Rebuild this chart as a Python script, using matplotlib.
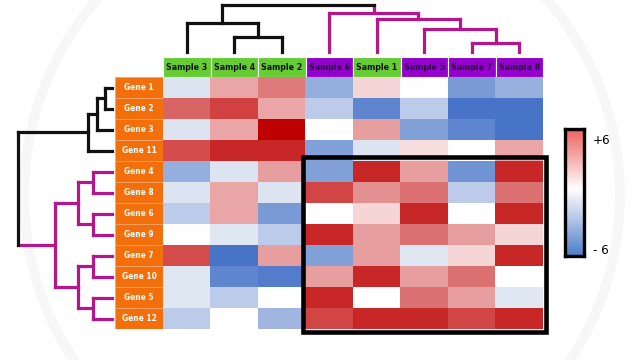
import matplotlib
matplotlib.use("Agg")
import matplotlib.pyplot as plt
import numpy as np
from matplotlib.colors import LinearSegmentedColormap
from matplotlib.patches import Rectangle, Circle
from matplotlib import font_manager

# ---------------- data ----------------
samples = ["Sample 3", "Sample 4", "Sample 2", "Sample 6", "Sample 1", "Sample 5", "Sample 7", "Sample 8"]
sample_group = ["g", "g", "g", "p", "g", "p", "p", "p"]
genes = ["Gene 1", "Gene 2", "Gene 3", "Gene 11", "Gene 4", "Gene 8", "Gene 6", "Gene 9",
         "Gene 7", "Gene 10", "Gene 5", "Gene 12"]

gene1 = [-1.0, 2.0, 3.0, -2.5, 1.0, 0.0, -3.2, -2.4]
gene2 = [3.5, 4.3, 2.0, -1.6, -4.0, -1.6, -5.2, -5.2]
gene3 = [-1.0, 2.0, 6.0, 0.0, 2.2, -3.0, -4.0, -5.2]
gene11 = [4.0, 5.0, 5.0, -3.0, -1.0, 0.8, 0.0, 2.0]
gene4 = [-2.5, -1.0, 2.2, -3.0, 5.0, 2.2, -3.5, 5.0]
gene8 = [-1.0, 2.0, -1.0, 4.2, 2.5, 3.2, -1.6, 3.2]
gene6 = [-1.6, 2.0, -3.2, 0.0, 1.0, 5.0, 0.0, 5.0]
gene9 = [0.0, -0.9, -1.6, 5.0, 2.2, 3.2, 2.2, 1.0]
gene7 = [4.0, -5.2, 2.2, -3.0, 2.2, -0.9, 1.0, 5.0]
gene10 = [-0.9, -4.0, -4.6, 2.2, 5.0, 2.2, 3.2, 0.0]
gene5 = [-0.9, -1.6, 0.0, 5.0, 0.0, 3.2, 2.2, -0.9]
gene12 = [-1.6, 0.0, -2.2, 4.2, 5.0, 5.0, 4.2, 5.0]
values = np.array([gene1, gene2, gene3, gene11, gene4, gene8, gene6, gene9,
                   gene7, gene10, gene5, gene12])

# linkage: (child a, child b, height, colour key); leaves are 0..n-1 in display order
col_links = [(6, 7, 9, "m"), (5, 8, 23, "m"), (4, 9, 33, "m"), (3, 10, 39, "m"),
             (1, 2, 15, "k"), (0, 12, 29, "k"), (13, 11, 47, "k")]
row_links = [(0, 1, 7, "k"), (12, 2, 15, "k"), (13, 3, 24, "k"),
             (4, 5, 19, "m"), (6, 7, 19, "m"), (15, 16, 34, "m"),
             (8, 9, 19, "m"), (10, 11, 19, "m"), (18, 19, 34, "m"),
             (17, 20, 57, "m"), (14, 21, 94, "k")]

vmin, vmax = -6, 6
cbar_labels = ["+6", "- 6"]

# ---------------- style ----------------
W, H = 640, 360
LINE = {"k": "#111111", "m": "#b5168c"}
ORANGE = "#f36f0c"
GREEN = "#66cc33"
PURPLE = "#9400cc"

avail = {f.name for f in font_manager.fontManager.ttflist}
FONT = [f for f in ["Liberation Sans Narrow", "DejaVu Sans"] if f in avail] or ["DejaVu Sans"]
narrow = FONT[0] == "Liberation Sans Narrow"
TXT = dict(family=FONT, fontweight="bold")
if not narrow:
    TXT["fontstretch"] = "condensed"

cmap = LinearSegmentedColormap.from_list("heat", [
    (0.0, "#3a68c2"), (1 / 6, "#5f86cf"), (2 / 6, "#a7bce3"), (5 / 12, "#dde5f3"),
    (0.5, "#ffffff"), (7 / 12, "#f6d6d6"), (8 / 12, "#eaa6a6"), (9 / 12, "#df7c7c"),
    (10 / 12, "#d54d4d"), (11 / 12, "#c82828"), (1.0, "#bf0000")])
cbar_cmap = LinearSegmentedColormap.from_list("cb", [
    (0.0, "#4d7dc8"), (0.3, "#b8c9e8"), (0.53, "#ffffff"), (0.75, "#f6b5b5"), (1.0, "#f06262")])

fig = plt.figure(figsize=(W / 100, H / 100), dpi=100)


def ax_px(x0, y0, x1, y1, **kw):
    return fig.add_axes([x0 / W, 1 - y1 / H, (x1 - x0) / W, (y1 - y0) / H], **kw)


# faint watermark ring
bg = ax_px(0, 0, W, H)
bg.set_xlim(0, W)
bg.set_ylim(H, 0)
bg.axis("off")
bg.add_patch(Circle((322, 195), 298, fill=False, ec="#f7f7f7", lw=7))

HX0, HX1, HY0, HY1 = 163, 543, 77, 329
nr, nc = values.shape

# heatmap
hm = ax_px(HX0, HY0, HX1, HY1)
hm.imshow(values, cmap=cmap, vmin=vmin, vmax=vmax, aspect="auto", interpolation="nearest")
hm.set_xlim(-0.5, nc - 0.5)
hm.set_ylim(nr - 0.5, -0.5)
hm.axis("off")
hm.add_patch(Rectangle((2.5 - 0.05, 3.5 - 0.17), 5.0 + 0.12, 8.0 + 0.3, fill=False,
                       ec="black", lw=3.3, clip_on=False, zorder=5))

# gene labels
ga = ax_px(115, HY0, HX0, HY1)
ga.set_xlim(0, 1)
ga.set_ylim(nr - 0.5, -0.5)
ga.axis("off")
for i, g in enumerate(genes):
    ga.add_patch(Rectangle((0, i - 0.5), 1, 1, fc=ORANGE, ec="#f7a468", lw=0.6))
    ga.text(0.5, i, g, ha="center", va="center", color="white",
            fontsize=6.5 if narrow else 6.0, **TXT)

# sample labels
sa = ax_px(HX0, 57, HX1, HY0)
sa.set_xlim(-0.5, nc - 0.5)
sa.set_ylim(1, 0)
sa.axis("off")
for j, s in enumerate(samples):
    fc = GREEN if sample_group[j] == "g" else PURPLE
    tc = "#111111" if sample_group[j] == "g" else "#2a0040"
    sa.add_patch(Rectangle((j - 0.5, 0), 1, 1, fc=fc, ec="white", lw=0.8))
    sa.text(j, 0.52, s, ha="center", va="center", color=tc,
            fontsize=7.5 if narrow else 6.3, **TXT)


def dendro_segments(links, n):
    pos = {i: float(i) for i in range(n)}
    hgt = {i: 0.0 for i in range(n)}
    col = {}
    segs = []
    for k, (a, b, h, c) in enumerate(links):
        node = n + k
        pos[node] = (pos[a] + pos[b]) / 2
        hgt[node] = h
        col[node] = c
        for ch in (a, b):
            segs.append(((pos[ch], hgt[ch]), (pos[ch], h), col.get(ch, c)))
        segs.append(((pos[a], h), (pos[b], h), c))
    return segs


LW = 2.3
# top dendrogram
td = ax_px(HX0, 0, HX1, 55)
td.set_xlim(-0.5, nc - 0.5)
td.set_ylim(-3, 52)
td.axis("off")
for (x0, y0), (x1, y1), c in dendro_segments(col_links, nc):
    td.plot([x0, x1], [y0, y1], color=LINE[c], lw=LW, solid_capstyle="projecting")

# left dendrogram
ld = ax_px(0, HY0, 115, HY1)
ld.set_xlim(112, -3)
ld.set_ylim(nr - 0.5, -0.5)
ld.axis("off")
for (p0, h0), (p1, h1), c in dendro_segments(row_links, nr):
    ld.plot([h0, h1], [p0, p1], color=LINE[c], lw=LW, solid_capstyle="projecting")

# colorbar
cb = ax_px(565, 129, 584, 256)
grad = np.linspace(vmax, vmin, 200).reshape(-1, 1)
cb.imshow(grad, cmap=cbar_cmap, vmin=vmin, vmax=vmax, aspect="auto")
cb.set_xticks([])
cb.set_yticks([])
for sp in cb.spines.values():
    sp.set_linewidth(2.4)
    sp.set_color("black")
LBL = dict(family=FONT)
if not narrow:
    LBL["fontstretch"] = "condensed"
fig.text(593 / W, 1 - 141 / H, cbar_labels[0], fontsize=9.5, va="center", ha="left", **LBL)
fig.text(593 / W, 1 - 251 / H, cbar_labels[1], fontsize=9.5, va="center", ha="left", **LBL)

fig.savefig("out.png", dpi=100)
